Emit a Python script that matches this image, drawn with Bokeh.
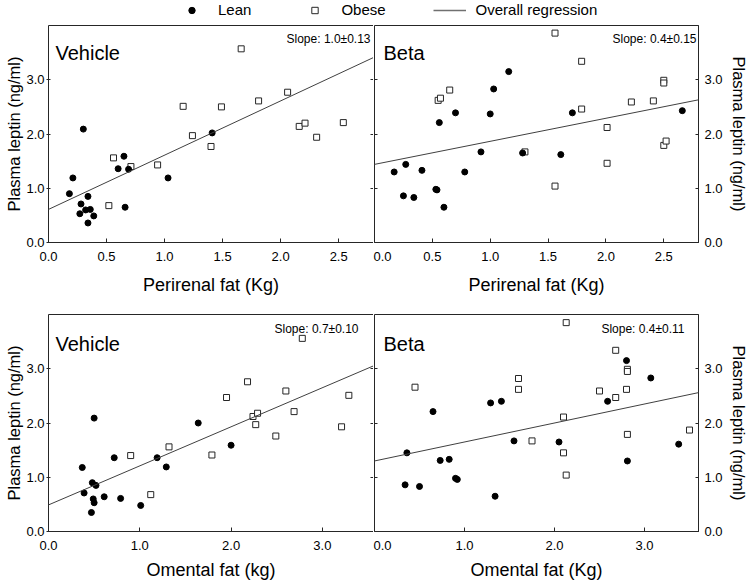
from bokeh.plotting import figure
from bokeh.models import (Range1d, FixedTicker, LinearAxis, Slope, Label, Legend,
                          LegendItem, NumeralTickFormatter)
from bokeh.layouts import column, row
from bokeh.embed import file_html
from bokeh.resources import INLINE

FONT = "Liberation Sans"
INK = "#262626"
LINE = "#404040"

# ---------------- data ----------------
# Top row: perirenal fat (kg) vs plasma leptin (ng/ml)
peri_veh_lean_x = [0.18, 0.21, 0.30, 0.28, 0.27, 0.32, 0.34, 0.36, 0.34, 0.39, 0.60, 0.65, 0.69, 0.66, 1.03, 1.41]
peri_veh_lean_y = [0.90, 1.19, 2.09, 0.71, 0.53, 0.60, 0.85, 0.61, 0.36, 0.49, 1.36, 1.59, 1.35, 0.65, 1.19, 2.02]
peri_veh_obese_x = [0.52, 0.56, 0.71, 0.94, 1.16, 1.24, 1.40, 1.49, 1.66, 1.81, 2.06, 2.16, 2.21, 2.31, 2.54]
peri_veh_obese_y = [0.68, 1.56, 1.40, 1.43, 2.51, 1.97, 1.77, 2.50, 3.57, 2.61, 2.77, 2.14, 2.20, 1.94, 2.21]

peri_beta_lean_x = [0.17, 0.25, 0.27, 0.34, 0.41, 0.53, 0.54, 0.56, 0.60, 0.70, 0.78, 0.92, 1.00, 1.03, 1.16, 1.28, 1.61, 1.71, 2.66]
peri_beta_lean_y = [1.30, 0.86, 1.44, 0.83, 1.33, 0.98, 0.97, 2.21, 0.65, 2.39, 1.30, 1.67, 2.37, 2.83, 3.15, 1.65, 1.62, 2.39, 2.43]
peri_beta_obese_x = [0.55, 0.57, 0.65, 1.30, 1.56, 1.56, 1.79, 1.79, 2.01, 2.01, 2.22, 2.41, 2.50, 2.50, 2.50, 2.52]
peri_beta_obese_y = [2.62, 2.66, 2.81, 1.67, 3.86, 1.04, 3.34, 2.46, 2.12, 1.46, 2.59, 2.61, 2.99, 2.94, 1.79, 1.87]

# Bottom row: omental fat (kg) vs plasma leptin (ng/ml)
om_veh_lean_x = [0.37, 0.39, 0.48, 0.52, 0.50, 0.49, 0.50, 0.47, 0.61, 0.72, 0.79, 1.01, 1.19, 1.29, 1.64, 2.00]
om_veh_lean_y = [1.18, 0.71, 0.90, 0.85, 2.09, 0.60, 0.53, 0.35, 0.64, 1.36, 0.61, 0.48, 1.36, 1.19, 2.00, 1.59]
om_veh_obese_x = [0.90, 1.12, 1.32, 1.79, 1.95, 2.18, 2.24, 2.29, 2.27, 2.49, 2.60, 2.69, 2.78, 3.21, 3.29]
om_veh_obese_y = [1.40, 0.68, 1.56, 1.41, 2.47, 2.76, 2.12, 2.18, 1.97, 1.76, 2.59, 2.21, 3.56, 1.93, 2.51]

om_beta_lean_x = [0.34, 0.36, 0.50, 0.65, 0.73, 0.83, 0.90, 0.92, 1.29, 1.34, 1.41, 1.55, 2.05, 2.59, 2.80, 2.81, 3.07, 3.38]
om_beta_lean_y = [0.86, 1.45, 0.83, 2.21, 1.31, 1.33, 0.98, 0.96, 2.37, 0.65, 2.40, 1.67, 1.65, 2.40, 3.15, 1.30, 2.83, 1.61]
om_beta_obese_x = [0.45, 1.60, 1.60, 1.75, 2.13, 2.10, 2.10, 2.13, 2.50, 2.68, 2.68, 2.81, 2.81, 2.80, 2.81, 3.50]
om_beta_obese_y = [2.66, 2.82, 2.62, 1.67, 3.85, 2.11, 1.45, 1.04, 2.59, 3.34, 2.47, 2.99, 2.95, 2.62, 1.79, 1.87]

# Overall regression lines (intercept, slope) and annotation texts
fit_peri_veh = (0.61, 1.00)
fit_peri_beta = (1.44, 0.425)
fit_om_veh = (0.49, 0.72)
fit_om_beta = (1.30, 0.35)

slope_texts = ["Slope: 1.0\u00b10.13", "Slope: 0.4\u00b10.15", "Slope: 0.7\u00b10.10", "Slope: 0.4\u00b10.11"]
panel_titles = ["Vehicle", "Beta", "Vehicle", "Beta"]
x_labels = ["Perirenal fat (Kg)", "Perirenal fat (Kg)", "Omental fat (kg)", "Omental fat (Kg)"]
y_label = "Plasma leptin (ng/ml)"
x_ends = [2.8, 2.8, 3.56, 3.6]
x_ticks_top = [0.0, 0.5, 1.0, 1.5, 2.0, 2.5]
x_ticks_bottom = [0.0, 1.0, 2.0, 3.0]
y_ticks = [0.0, 1.0, 2.0, 3.0]
legend_labels = ["Lean", "Obese", "Overall regression"]

FRAME_W = 325
FRAME_H = 217


def style_x(ax, top):
    ax.ticker = FixedTicker(ticks=x_ticks_top if top else x_ticks_bottom)
    ax.formatter = NumeralTickFormatter(format="0.0")
    ax.major_tick_in = 4
    ax.major_tick_out = 0
    ax.minor_tick_in = 0
    ax.minor_tick_out = 0
    ax.major_tick_line_color = INK
    ax.axis_line_color = INK
    ax.major_label_standoff = 9
    ax.major_label_text_font = FONT
    ax.major_label_text_font_size = "13px"
    ax.major_label_text_color = "black"
    ax.axis_label_standoff = 11 if top else 7
    ax.axis_label_text_font = FONT
    ax.axis_label_text_font_size = "18px"
    ax.axis_label_text_font_style = "normal"
    ax.axis_label_text_color = "black"


def divider_ticks():
    # axis with only small inner tick marks (no labels, no line)
    ax = LinearAxis(ticker=FixedTicker(ticks=[], minor_ticks=y_ticks[1:]))
    ax.major_tick_in = 0
    ax.major_tick_out = 0
    ax.minor_tick_in = 3
    ax.minor_tick_out = 0
    ax.minor_tick_line_color = INK
    ax.major_label_standoff = 0
    ax.axis_line_color = None
    return ax


def make_panel(idx, lean_x, lean_y, ob_x, ob_y, fit):
    left = idx in (0, 2)
    top = idx in (0, 1)
    b_left = 48 if left else 1
    b_right = 0 if left else 51
    b_top = 1 if top else 8
    b_bottom = 64 if top else 52
    p = figure(width=b_left + FRAME_W + b_right, height=b_top + FRAME_H + b_bottom,
               x_range=Range1d(0, x_ends[idx]), y_range=Range1d(0, 4),
               output_backend="svg", toolbar_location=None,
               y_axis_location="left" if left else "right",
               min_border_left=b_left, min_border_right=b_right,
               min_border_top=b_top, min_border_bottom=b_bottom)
    p.xgrid.visible = False
    p.ygrid.visible = False
    p.background_fill_color = "white"
    p.border_fill_color = "white"

    style_x(p.xaxis[0], top)
    p.xaxis[0].axis_label = x_labels[idx]

    ya = p.yaxis[0]
    ya.ticker = FixedTicker(ticks=y_ticks)
    ya.formatter = NumeralTickFormatter(format="0.0")
    ya.minor_tick_in = 0
    ya.minor_tick_out = 0
    ya.major_tick_line_color = INK
    ya.axis_line_color = INK
    ya.major_label_text_font = FONT
    ya.major_label_text_font_size = "13px"
    ya.major_label_text_color = "black"
    ya.axis_label = y_label
    ya.axis_label_text_font = FONT
    ya.axis_label_text_font_size = "16.5px"
    ya.axis_label_text_font_style = "normal"
    ya.axis_label_text_color = "black"
    if left:
        ya.major_tick_in = 2
        ya.major_tick_out = 2
        ya.major_label_standoff = 2
        ya.axis_label_standoff = 0
        p.outline_line_color = None
        top_line = LinearAxis(ticker=FixedTicker(ticks=[]))
        top_line.major_tick_in = 0
        top_line.major_tick_out = 0
        top_line.minor_tick_in = 0
        top_line.minor_tick_out = 0
        top_line.major_label_standoff = 0
        top_line.axis_line_color = INK
        p.add_layout(top_line, "above")
        p.add_layout(divider_ticks(), "right")
    else:
        ya.major_tick_in = 3
        ya.major_tick_out = 0
        ya.major_label_standoff = 6
        ya.axis_label_standoff = 4
        p.outline_line_color = INK
        p.outline_line_width = 1
        p.add_layout(divider_ticks(), "left")

    p.scatter(ob_x, ob_y, marker="square", size=6, fill_color="white",
              line_color=INK, line_width=1)
    p.scatter(lean_x, lean_y, marker="circle", size=6, fill_color="black",
              line_color="black")
    p.add_layout(Slope(y_intercept=fit[0], gradient=fit[1], line_color=LINE, line_width=1))

    title_x = 7 if left else 9
    title_y = 190 if top else 188
    p.add_layout(Label(x=title_x, y=title_y, x_units="screen", y_units="screen",
                       text=panel_titles[idx], text_font=FONT, text_font_size="20px",
                       text_color="black", text_baseline="alphabetic", text_align="left"))
    slope_x = FRAME_W - 3 if top else FRAME_W - 15
    slope_y = 204 if top else 203
    p.add_layout(Label(x=slope_x, y=slope_y, x_units="screen", y_units="screen",
                       text=slope_texts[idx], text_font=FONT, text_font_size="12px",
                       text_color="black", text_baseline="alphabetic", text_align="right"))
    return p


tl = make_panel(0, peri_veh_lean_x, peri_veh_lean_y, peri_veh_obese_x, peri_veh_obese_y, fit_peri_veh)
tr = make_panel(1, peri_beta_lean_x, peri_beta_lean_y, peri_beta_obese_x, peri_beta_obese_y, fit_peri_beta)
bl = make_panel(2, om_veh_lean_x, om_veh_lean_y, om_veh_obese_x, om_veh_obese_y, fit_om_veh)
br = make_panel(3, om_beta_lean_x, om_beta_lean_y, om_beta_obese_x, om_beta_obese_y, fit_om_beta)

# Legend strip (proxy renderers hold a single NaN point, so nothing is drawn)
nan = float("nan")
leg = figure(width=750, height=24, x_range=Range1d(0, 1), y_range=Range1d(0, 1),
             output_backend="svg", toolbar_location=None,
             x_axis_location=None, y_axis_location=None, min_border=0)
leg.outline_line_color = None
leg.xgrid.visible = False
leg.ygrid.visible = False
r1 = leg.scatter([nan], [nan], marker="circle", size=6, fill_color="black", line_color="black")
r2 = leg.scatter([nan], [nan], marker="square", size=6, fill_color="white", line_color=INK)
r3 = leg.line([nan, nan], [nan, nan], line_color="#707070", line_width=1.5)
legend = Legend(items=[LegendItem(label=legend_labels[0], renderers=[r1]),
                       LegendItem(label=legend_labels[1], renderers=[r2]),
                       LegendItem(label=legend_labels[2], renderers=[r3])],
                orientation="horizontal", location=(175, 6),
                glyph_width=33, glyph_height=16, label_height=16, label_standoff=10,
                spacing=47, padding=0, margin=0, border_line_color=None,
                background_fill_alpha=0, label_text_font=FONT,
                label_text_font_size="15px", label_text_color="black")
leg.add_layout(legend)

layout = column(leg, row(tl, tr), row(bl, br))
open("out.html", "w").write(file_html(layout, INLINE))
